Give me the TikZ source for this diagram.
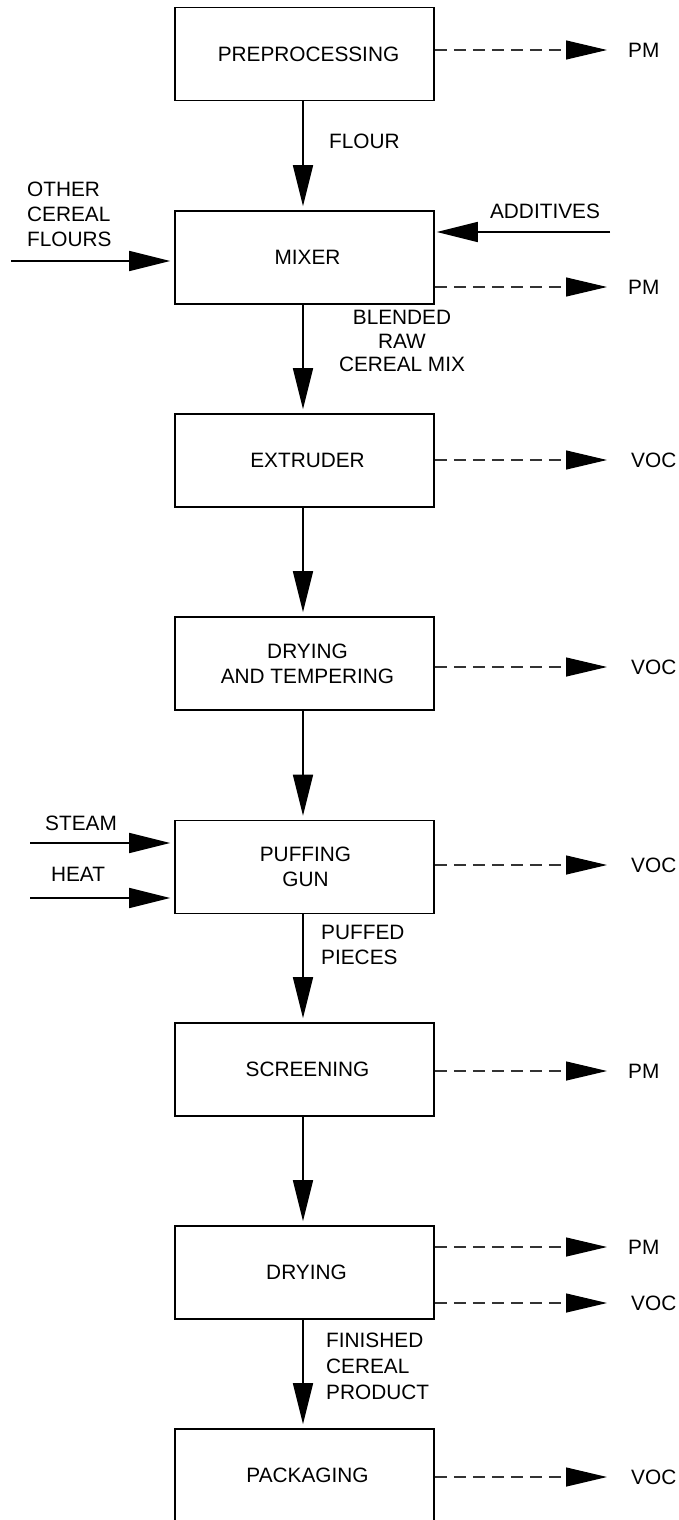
\documentclass[tikz,border=0pt]{standalone}
\usepackage{fontspec}
\setmainfont{Liberation Sans}
\usetikzlibrary{arrows.meta}
\begin{document}
\begin{tikzpicture}[x=1pt,y=-1pt,
  txt/.style={inner sep=0pt,font=\fontsize{20.8pt}{25pt}\selectfont},
  stage/.style={draw,line width=1.6pt,minimum width=259pt,minimum height=93pt,inner sep=0pt},
  stagetext/.style={txt,align=center},
  flow/.style={line width=1.6pt,-{Triangle[length=41pt,width=20pt]},shorten >=4pt},
  emis/.style={line width=1.2pt,black!80,dash pattern=on 12pt off 7pt,-{Triangle[length=41pt,width=19pt,black]},shorten >=21pt},
  lbl/.style={txt,anchor=west}]
\useasboundingbox (0,0) rectangle (678,1520);
\clip (0,0) rectangle (678,1520);
% stages
\node[stage] (pre) at (304.5,54)   {};
\node[stage] (mix) at (304.5,257.5) {};
\node[stage] (ext) at (304.5,460.5) {};
\node[stage] (dat) at (304.5,663.5) {};
\node[stage] (puf) at (304.5,867)   {};
\node[stage] (scr) at (304.5,1069.5) {};
\node[stage] (dry) at (304.5,1272.5) {};
\node[stage] (pac) at (304.5,1475.5) {};
\node[stagetext] (preT) at ([xshift=4pt]pre.center) {PREPROCESSING};
\node[stagetext] (mixT) at ([xshift=3pt]mix.center) {MIXER};
\node[stagetext] (extT) at ([xshift=3pt]ext.center) {EXTRUDER};
\node[stagetext] (datT) at ([xshift=3pt]dat.center) {DRYING\\AND TEMPERING};
\node[stagetext] (pufT) at ([xshift=1pt]puf.center) {PUFFING\\GUN};
\node[stagetext] (scrT) at ([xshift=3pt]scr.center) {SCREENING};
\node[stagetext] (dryT) at ([xshift=2pt]dry.center) {DRYING};
\node[stagetext] (pacT) at ([xshift=3pt]pac.center) {PACKAGING};
% main flow
\draw[flow] ([xshift=-1.5pt]pre.south) -- ([xshift=-1.5pt]mix.north);
\draw[flow] ([xshift=-1.5pt]mix.south) -- ([xshift=-1.5pt]ext.north);
\draw[flow] ([xshift=-1.5pt]ext.south) -- ([xshift=-1.5pt]dat.north);
\draw[flow] ([xshift=-1.5pt]dat.south) -- ([xshift=-1.5pt]puf.north);
\draw[flow] ([xshift=-1.5pt]puf.south) -- ([xshift=-1.5pt]scr.north);
\draw[flow] ([xshift=-1.5pt]scr.south) -- ([xshift=-1.5pt]dry.north);
\draw[flow] ([xshift=-1.5pt]dry.south) -- ([xshift=-1.5pt]pac.north);
% flow labels
\node[lbl] (flour) at (329,141) {FLOUR};
\node[txt,align=center,font=\fontsize{20.8pt}{23.5pt}\selectfont] (blend) at (402,341) {BLENDED\\RAW\\CEREAL MIX};
\node[lbl,align=left] (puffed) at (321,944.5) {PUFFED\\PIECES};
\node[lbl,align=left,font=\fontsize{20.8pt}{26pt}\selectfont] (fin) at (326,1366) {FINISHED\\CEREAL\\PRODUCT};
% inputs
\node[lbl,align=left] (ocf) at (27,214.5) {OTHER\\CEREAL\\FLOURS};
\coordinate (ocfsrc) at (11,261);
\draw[flow] (ocfsrc) -- (mix.west |- ocfsrc);
\node[txt] (add) at (545,211) {ADDITIVES};
\coordinate (addsrc) at (610,232);
\draw[flow,shorten >=2pt] (addsrc) -- (mix.east |- addsrc);
\node[txt] (steam) at (81,823) {STEAM};
\coordinate (steamsrc) at (30,843);
\draw[flow] (steamsrc) -- (puf.west |- steamsrc);
\node[txt] (heat) at (78,874) {HEAT};
\coordinate (heatsrc) at (30,898);
\draw[flow] (heatsrc) -- (puf.west |- heatsrc);
% emissions
\node[lbl] (e1) at (628,50)   {PM};
\node[lbl] (e2) at (628,287)  {PM};
\node[lbl] (e3) at (631,460)  {VOC};
\node[lbl] (e4) at (631,667)  {VOC};
\node[lbl] (e5) at (631,865)  {VOC};
\node[lbl] (e6) at (628,1071) {PM};
\node[lbl] (e7) at (628,1247) {PM};
\node[lbl] (e8) at (631,1303) {VOC};
\node[lbl] (e9) at (631,1477) {VOC};
\draw[emis] (pre.east |- e1) -- (e1);
\draw[emis] (mix.east |- e2) -- (e2);
\draw[emis,shorten >=24pt] (ext.east |- e3) -- (e3);
\draw[emis,shorten >=24pt] (dat.east |- e4) -- (e4);
\draw[emis,shorten >=24pt] (puf.east |- e5) -- (e5);
\draw[emis] (scr.east |- e6) -- (e6);
\draw[emis] (dry.east |- e7) -- (e7);
\draw[emis,shorten >=24pt] (dry.east |- e8) -- (e8);
\draw[emis,shorten >=24pt] (pac.east |- e9) -- (e9);
\end{tikzpicture}
\end{document}
